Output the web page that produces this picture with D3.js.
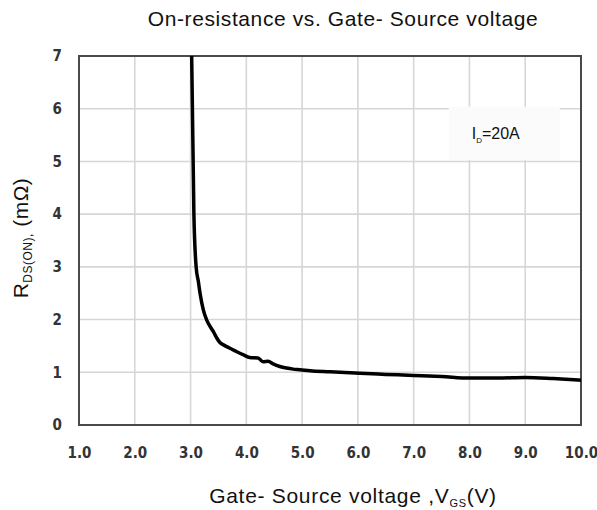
<!DOCTYPE html>
<html>
<head>
<meta charset="utf-8">
<script src="https://cdn.jsdelivr.net/npm/d3@7"></script>
<style>
  body { margin: 0; background: #fff; }
  text { font-family: "Liberation Sans", Arial, sans-serif; }
  .tick text { font-family: "Liberation Sans Narrow", "DejaVu Sans Condensed", "Open Sans", sans-serif; font-weight: 700; font-size: 15px; fill: #333; }
</style>
</head>
<body>
<div id="chart"></div>
<script>
// curve: gate-source voltage (V) and on-resistance (mOhm)
const vgs = [3.02, 3.06, 3.10, 3.14, 3.17, 3.23, 3.29, 3.35, 3.42, 3.47, 3.53, 3.59, 3.70, 3.83, 3.95, 4.06, 4.21, 4.30, 4.39, 4.48, 4.60, 4.72, 4.84, 4.96, 5.14, 5.5, 6.04, 6.5, 7.0, 7.5, 8.0, 8.5, 9.0, 9.5, 10.0];
const rdson = [7.0, 4.0, 3.0, 2.72, 2.50, 2.18, 1.99, 1.87, 1.75, 1.65, 1.56, 1.52, 1.46, 1.39, 1.33, 1.28, 1.27, 1.20, 1.21, 1.16, 1.11, 1.08, 1.06, 1.05, 1.03, 1.01, 0.98, 0.96, 0.94, 0.92, 0.89, 0.89, 0.90, 0.88, 0.85];
const xTicks = [1, 2, 3, 4, 5, 6, 7, 8, 9, 10];
const yTicks = [0, 1, 2, 3, 4, 5, 6, 7];

let margin = {top: 56, right: 16, bottom: 85, left: 79},
    width = 597 - margin.left - margin.right,
    height = 510 - margin.top - margin.bottom;

const root = d3.select("#chart")
  .append("svg")
    .attr("width", 597)
    .attr("height", 510);

const svg = root.append("g")
    .attr("transform", "translate(" + margin.left + "," + margin.top + ")");

let x = d3.scaleLinear().domain([1, 10]).range([0, width]);
let y = d3.scaleLinear().domain([0, 7]).range([height, 0]);

// grid
svg.append("g")
  .selectAll("line")
  .data(xTicks.slice(1, -1))
  .enter().append("line")
    .attr("x1", d => x(d)).attr("x2", d => x(d))
    .attr("y1", 0).attr("y2", height)
    .style("stroke", "#d6d6d6").style("stroke-width", 1.6);
svg.append("g")
  .selectAll("line")
  .data(yTicks.slice(1, -1))
  .enter().append("line")
    .attr("x1", 0).attr("x2", width)
    .attr("y1", d => y(d)).attr("y2", d => y(d))
    .style("stroke", "#d6d6d6").style("stroke-width", 1.6);

// legend box sits on top of the grid
svg.append("rect")
  .attr("x", x(7.63)).attr("y", y(6.04))
  .attr("width", x(9.62) - x(7.63)).attr("height", y(5.03) - y(6.04))
  .style("fill", "#fbfbfb");
let lab = svg.append("text")
  .attr("x", x(8.04)).attr("y", y(5.43))
  .style("font-size", "16px").style("fill", "#111");
lab.append("tspan").text("I");
lab.append("tspan").attr("dy", 4).style("font-size", "8px").text("D");
lab.append("tspan").attr("dy", -4).text("=20A");

// axes
svg.append("g")
  .attr("transform", "translate(0," + height + ")")
  .call(d3.axisBottom(x).tickValues(xTicks).tickFormat(d3.format(".1f")).tickSize(0).tickPadding(22))
  .call(g => g.select(".domain").remove());
svg.append("g")
  .call(d3.axisLeft(y).tickValues(yTicks).tickFormat(d3.format("d")).tickSize(0).tickPadding(17))
  .call(g => g.select(".domain").remove());

// frame
svg.append("rect")
  .attr("width", width).attr("height", height)
  .style("fill", "none").style("stroke", "#4a4a4a").style("stroke-width", 2);

// curve
let line = d3.line()
  .x((d, i) => x(vgs[i]))
  .y(d => y(d))
  .curve(d3.curveMonotoneX);
svg.append("path")
  .datum(rdson)
  .attr("d", line)
  .style("fill", "none").style("stroke", "#000").style("stroke-width", 3.5)
  .style("stroke-linejoin", "round");

// title
root.append("text")
  .attr("x", 343).attr("y", 26)
  .attr("text-anchor", "middle")
  .style("font-size", "21px").style("letter-spacing", "0.6px").style("fill", "#111")
  .text("On-resistance vs. Gate- Source voltage");

// x label
let xl = root.append("text")
  .attr("x", 353).attr("y", 503)
  .attr("text-anchor", "middle")
  .style("font-size", "21px").style("letter-spacing", "0.7px").style("fill", "#111");
xl.append("tspan").text("Gate- Source voltage ,V");
xl.append("tspan").attr("dy", 4).style("font-size", "11px").text("GS");
xl.append("tspan").attr("dy", -4).text("(V)");

// y label
let yl = root.append("text")
  .attr("transform", "translate(28,238) rotate(-90)")
  .attr("text-anchor", "middle")
  .style("font-size", "21px").style("letter-spacing", "0.5px").style("fill", "#111");
yl.append("tspan").text("R");
yl.append("tspan").attr("dy", 4).style("font-size", "12px").text("DS(ON),");
yl.append("tspan").attr("dy", -4).text(" (mΩ)");
</script>
</body>
</html>
